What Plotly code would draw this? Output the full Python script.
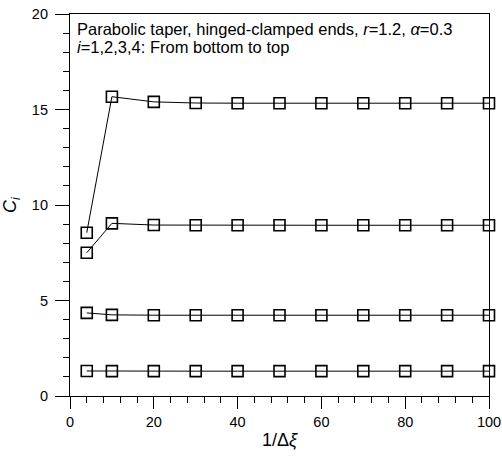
import plotly.graph_objects as go

x_vals = [4, 10, 20, 30, 40, 50, 60, 70, 80, 90, 100]
c1 = [1.31, 1.30, 1.30, 1.30, 1.30, 1.30, 1.30, 1.30, 1.30, 1.30, 1.30]
c2 = [4.35, 4.25, 4.23, 4.23, 4.23, 4.23, 4.23, 4.23, 4.23, 4.23, 4.23]
c3 = [7.50, 9.04, 8.95, 8.94, 8.94, 8.94, 8.94, 8.94, 8.94, 8.94, 8.94]
c4 = [8.55, 15.67, 15.40, 15.34, 15.33, 15.33, 15.33, 15.33, 15.33, 15.33, 15.33]
series = [c1, c2, c3, c4]
x_ticks = [0, 20, 40, 60, 80, 100]
y_ticks = [0, 5, 10, 15, 20]
note_lines = ["Parabolic taper, hinged-clamped ends, <i>r</i>=1.2, <i>α</i>=0.3",
              "<i>i</i>=1,2,3,4: From bottom to top"]

fig = go.Figure()
for s in series:
    fig.add_trace(go.Scatter(
        x=x_vals, y=s, mode="lines+markers",
        line=dict(color="black", width=1),
        marker=dict(symbol="square-open", size=11, color="black", line=dict(width=1.6, color="black")),
        cliponaxis=False, showlegend=False))

font = "Liberation Sans, Arial, sans-serif"
fig.update_layout(
    width=502, height=458,
    margin=dict(l=70, r=13, t=14, b=62),
    paper_bgcolor="white", plot_bgcolor="white",
    font=dict(family=font, size=14.5, color="black"),
    xaxis=dict(range=[0, 100], tickvals=x_ticks, ticks="outside", ticklen=12,
               tickwidth=1.2, tickcolor="black", showline=True, linecolor="black", linewidth=1.2,
               mirror=True, showgrid=False, zeroline=False, automargin=False,
               minor=dict(dtick=4, ticks="outside", ticklen=6, tickwidth=1.2, tickcolor="black", showgrid=False),
               title=dict(text="1/Δ<i>ξ</i>", font=dict(size=18), standoff=4)),
    yaxis=dict(range=[0, 20], tickvals=y_ticks, ticks="outside", ticklen=14,
               tickwidth=1.2, tickcolor="black", showline=True, linecolor="black", linewidth=1.2,
               mirror=True, showgrid=False, zeroline=False, automargin=False,
               ticklabelstandoff=4,
               minor=dict(dtick=1, ticks="outside", ticklen=6, tickwidth=1.2, tickcolor="black", showgrid=False),
               title=dict(text="<i>C<sub>i</sub></i>", font=dict(size=18), standoff=13)),
)
for k, line in enumerate(note_lines):
    fig.add_annotation(x=0, y=1, xref="paper", yref="paper", xanchor="left", yanchor="middle",
                       xshift=5, yshift=-15 - 18 * k, showarrow=False, align="left",
                       text=line, font=dict(size=16.5, family=font))
fig.write_html("out.html", config={"displayModeBar": False},
               post_script="document.body.style.margin='0';")
